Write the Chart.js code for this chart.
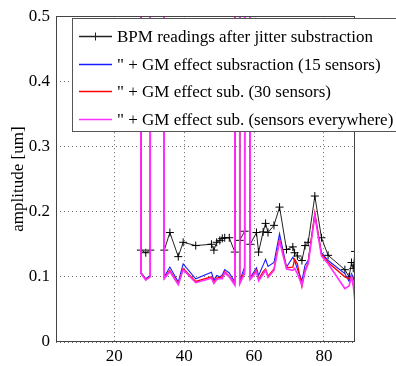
<!DOCTYPE html>
<html>
<head>
<meta charset="utf-8">
<script src="https://cdn.jsdelivr.net/npm/chart.js@4/dist/chart.umd.min.js"></script>
<style>
  body { margin: 0; background: #fff; }
  #wrap { width: 396px; height: 366px; }
</style>
</head>
<body>
<div id="wrap"><canvas id="bpm_chart" width="396" height="366"></canvas></div>
<script>
// BPM positions along the line (spike entries are broken readings, far off scale)
var xPos = [26.9, 27.6, 29.0, 30.3, 32.3, 34.3, 35.9, 38.3, 39.7, 43.3,
            47.8, 48.5, 49.3, 50.2, 50.9, 51.6, 52.9, 54.5, 55.2, 55.9,
            57.3, 58.1, 58.9, 60.7, 61.3, 62.6, 63.3, 64.0, 65.7, 67.3,
            69.3, 71.1, 71.6, 72.4, 73.7, 74.6, 75.5, 77.4, 79.3, 81.2,
            86.0, 87.2, 87.9, 88.4, 88.9]

var bpmJitter = [40, .141, .137, .141, 40, .141, .168, .131, .153, .148,
                 .150, .141, .153, .156, .159, .160, .160, .138, 40, .156,
                 .170, 40, .150, .168, .138, .169, .182, .168, .179, .207,
                 .142, .146, .137, .132, .125, .148, .153, .224, .160, .133,
                 .111, .100, .122, .113, .139]

var gm15 = [40, .107, .097, .102, 40, .100, .115, .092, .120, .097,
            .107, .095, .102, .100, .103, .111, .106, .092, 40, .094,
            .115, 40, .099, .114, .102, .118, .127, .116, .122, .166,
            .115, .130, .125, .112, .094, .118, .125, .196, .137, .125,
            .105, .093, .105, .100, .085]

var gm30 = [40, .106, .096, .101, 40, .098, .110, .089, .113, .093,
            .100, .092, .098, .099, .100, .108, .101, .089, 40, .091,
            .108, 40, .097, .110, .096, .108, .112, .101, .112, .157,
            .114, .115, .127, .120, .085, .110, .122, .198, .135, .122,
            .100, .097, .100, .087, .083]

var gmAll = [40, .105, .095, .100, 40, .097, .108, .088, .111, .091,
             .098, .090, .096, .097, .097, .106, .100, .087, 40, .089,
             .105, 40, .096, .108, .094, .104, .110, .099, .110, .155,
             .112, .110, .113, .105, .087, .108, .120, .194, .132, .120,
             .082, .086, .100, .087, .061]

var labels = ['BPM readings after jitter substraction',
              '" + GM effect subsraction (15 sensors)',
              '" + GM effect sub. (30 sensors)',
              '" + GM effect sub. (sensors everywhere)']

var xTicks = [20, 40, 60, 80]
var yTicks = [0, 0.1, 0.2, 0.3, 0.4, 0.5]
var yTickLabels = ['0', '0.1', '0.2', '0.3', '0.4', '0.5']

function pts(vals) {
  return vals.map(function (v, i) { return {x: xPos[i], y: v} })
}

Chart.defaults.font.family = '"Liberation Serif", "Times New Roman", serif'
Chart.defaults.font.size = 17
Chart.defaults.color = '#000'

// axes box like matlab
var frame = {
  id: 'frame',
  afterDatasetsDraw: function (chart) {
    var a = chart.chartArea, c = chart.ctx
    c.save()
    c.strokeStyle = '#444'
    c.lineWidth = 1
    c.strokeRect(Math.round(a.left) + 0.5, Math.round(a.top) + 0.5,
                 Math.round(a.right - a.left) - 1, Math.round(a.bottom - a.top) - 1)
    c.restore()
  }
}

// matlab style legend box sitting over the data
var legendBox = {
  id: 'legendBox',
  afterDraw: function (chart) {
    var c = chart.ctx
    c.save()
    c.fillStyle = '#fff'
    c.fillRect(72, 18, 324, 114)
    c.strokeStyle = '#555'
    c.lineWidth = 1
    c.strokeRect(72.5, 18.5, 330, 113)
    c.font = '17px "Liberation Serif", serif'
    c.textBaseline = 'middle'
    c.textAlign = 'left'
    chart.data.datasets.forEach(function (ds, i) {
      var y = Math.round(36 + i * 27.7) + 0.5
      c.strokeStyle = ds.borderColor
      c.lineWidth = Math.max(ds.borderWidth, 1.3)
      c.beginPath()
      c.moveTo(79, y)
      c.lineTo(112, y)
      c.stroke()
      if (i == 0) {
        c.lineWidth = 1
        c.beginPath()
        c.moveTo(95.5, y - 4)
        c.lineTo(95.5, y + 4)
        c.stroke()
      }
      c.fillStyle = '#000'
      c.fillText(ds.label, 117, y + 1)
    })
    c.restore()
  }
}

var ctx = document.getElementById('bpm_chart')

new Chart(ctx, {
  type: 'line',
  data: {
    datasets: [{
      label: labels[0],
      data: pts(bpmJitter),
      borderColor: '#222222',
      borderWidth: 1,
      pointStyle: 'cross',
      pointRadius: 4,
      pointBorderWidth: 1,
      pointBorderColor: '#000000',
      order: 4
    }, {
      label: labels[1],
      data: pts(gm15),
      borderColor: '#1a1aff',
      borderWidth: 1.1,
      pointRadius: 0,
      order: 3
    }, {
      label: labels[2],
      data: pts(gm30),
      borderColor: '#ff0000',
      borderWidth: 1.3,
      pointRadius: 0,
      order: 2
    }, {
      label: labels[3],
      data: pts(gmAll),
      borderColor: '#ff30ff',
      borderWidth: 1.6,
      pointRadius: 0,
      order: 1
    }]
  },
  options: {
    responsive: false,
    animation: false,
    devicePixelRatio: 1,
    layout: { padding: { top: 14, right: 41, left: 0, bottom: 0 } },
    plugins: { legend: { display: false }, tooltip: { enabled: false } },
    scales: {
      x: {
        type: 'linear',
        min: 3.3,
        max: 88.9,
        afterBuildTicks: function (s) { s.ticks = xTicks.map(function (v) { return {value: v} }) },
        afterFit: function (s) { s.height = 24 },
        grid: { color: '#666', lineWidth: 1, drawTicks: false },
        border: { display: false, dash: [1, 3] },
        ticks: { padding: 4, maxRotation: 0 }
      },
      y: {
        min: 0,
        max: 0.5,
        afterBuildTicks: function (s) { s.ticks = yTicks.map(function (v) { return {value: v} }) },
        afterFit: function (s) { s.width = 56 },
        grid: { color: '#666', lineWidth: 1, drawTicks: false },
        border: { display: false, dash: [1, 3] },
        ticks: {
          padding: 6,
          callback: function (v, i) { return yTickLabels[i] }
        },
        title: { display: true, text: 'amplitude [um]', padding: { top: 8, bottom: 0 } }
      }
    }
  },
  plugins: [frame, legendBox]
})
</script>
</body>
</html>
